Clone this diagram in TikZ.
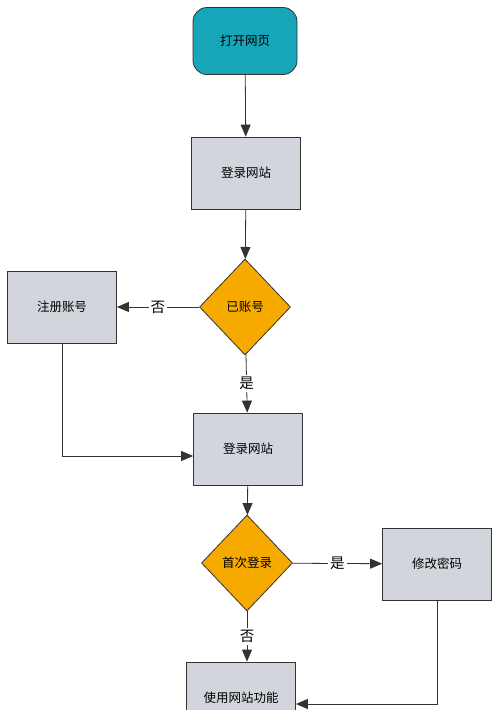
\documentclass[tikz,border=0pt]{standalone}
\usepackage{fontspec}
\setmainfont{Noto Sans CJK SC}
\usetikzlibrary{shapes.geometric}
\usetikzlibrary{arrows.meta}
\usetikzlibrary{positioning}

\definecolor{startcol}{HTML}{17A5B9}
\definecolor{boxcol}{HTML}{D2D5DC}
\definecolor{deccol}{HTML}{F6AA00}
\definecolor{linecol}{HTML}{333333}

\begin{document}
\begin{tikzpicture}[x=1pt, y=-1pt, font=\fontsize{12.5}{14}\selectfont,
        start/.style={draw=linecol, fill=startcol, rounded corners=14pt, minimum width=104pt, minimum height=67pt},
        proc/.style={draw=linecol, fill=boxcol, minimum width=109pt, minimum height=72pt},
        decide/.style={draw=linecol, fill=deccol, diamond, inner sep=0pt, minimum width=91pt, minimum height=96pt},
        lbl/.style={fill=white, inner sep=2pt, font=\fontsize{14.5}{16}\selectfont},
        every path/.style={draw=linecol, line width=0.8pt},
        -{Triangle[width=10pt,length=12pt]}]
        \useasboundingbox[draw=none] (0,0) rectangle (500,710);

        \node [start] (open) at (245,41) {打开网页};
        \node [proc] (login1) at (246,173) {登录网站};
        \node [decide] (hasacc) at (245,307) {已账号};
        \node [proc] (reg) at (62,307) {注册账号};
        \node [proc] (login2) at (248,449) {登录网站};
        \node [decide] (first) at (247,563) {首次登录};
        \node [proc] (chpwd) at (437,564) {修改密码};
        \node [proc] (use) at (241,698) {使用网站功能};

        \draw (open) -- (login1);
        \draw (login1) -- (hasacc);
        \draw (hasacc) -- node [lbl] {否} (reg);
        \draw (hasacc) -- node [lbl] {是} (login2);
        \draw (reg) |- ([yshift=-7pt]login2.west);
        \draw (login2) -- (first);
        \draw (first) -- node [lbl] {是} (chpwd);
        \draw (first) -- node [lbl] {否} (first |- use.north);
        \draw (chpwd) |- ([yshift=-6pt]use.east);
    \end{tikzpicture}
\end{document}
